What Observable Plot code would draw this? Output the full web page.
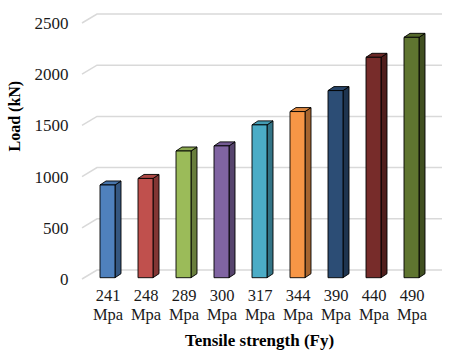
<!DOCTYPE html>
<html>
<head>
<meta charset="utf-8">
<script src="https://cdn.jsdelivr.net/npm/d3@7"></script>
<script src="https://cdn.jsdelivr.net/npm/@observablehq/plot@0.6"></script>
<style>
  html, body { margin: 0; padding: 0; background: #fff; }
  svg, svg text { font-family: "Liberation Serif", "Times New Roman", serif !important; }
</style>
</head>
<body>
<div id="chart"></div>
<script>
const categories = ["241 Mpa", "248 Mpa", "289 Mpa", "300 Mpa", "317 Mpa", "344 Mpa", "390 Mpa", "440 Mpa", "490 Mpa"];
const loads = [918, 982, 1250, 1300, 1505, 1635, 1840, 2165, 2360];
const colors = ["#4F81BD", "#C0504D", "#9BBB59", "#8064A2", "#4BACC6", "#F79646", "#2C4D75", "#772C2A", "#5F7530"];
const yTicks = [0, 500, 1000, 1500, 2000, 2500];
const xTitle = "Tensile strength (Fy)";
const yTitle = "Load (kN)";

const data = categories.map((c, i) => ({cat: c, load: loads[i], color: colors[i]}));

const FONT = "Liberation Serif";
const DX = 6, DY = 4;      // bar depth
const GX = 15, GY = 9;     // back-wall offset

const gridRender = (I, scales, values, dims) => {
  const g = d3.create("svg:g");
  const x0 = dims.marginLeft + 7;
  const xEnd = dims.width - dims.marginRight - 1;
  for (const i of I) {
    const y = scales.y(yTicks[i]);
    g.append("path")
      .attr("d", `M${x0},${y}L${x0 + GX},${y - GY}L${xEnd},${y - GY}`)
      .attr("fill", "none")
      .attr("stroke", "#d9d9d9")
      .attr("stroke-width", 1.5);
  }
  return g.node();
};

const barRender = (I, scales, values, dims) => {
  const g = d3.create("svg:g").attr("stroke", "#000").attr("stroke-width", 0.9).attr("stroke-linejoin", "round");
  for (const i of I) {
    const d = data[i];
    const xa = scales.x(d.cat);
    const xb = xa + scales.x.bandwidth();
    const y0 = scales.y(0) - 1.3;
    const y1 = scales.y(d.load);
    const c = d3.color(d.color);
    g.append("path")
      .attr("d", `M${xb},${y0}L${xb + DX},${y0 - DY}L${xb + DX},${y1 - DY}L${xb},${y1}Z`)
      .attr("fill", c.darker(1.1).formatHex());
    g.append("path")
      .attr("d", `M${xa},${y1}L${xa + DX},${y1 - DY}L${xb + DX},${y1 - DY}L${xb},${y1}Z`)
      .attr("fill", c.darker(0.3).formatHex());
    g.append("rect")
      .attr("x", xa).attr("y", y1)
      .attr("width", xb - xa).attr("height", y0 - y1)
      .attr("fill", c.formatHex());
  }
  return g.node();
};

const chart = Plot.plot({
  width: 450,
  height: 354,
  marginLeft: 75,
  marginRight: 7,
  marginTop: 23,
  marginBottom: 75,
  style: {fontFamily: FONT, fontSize: "17px", color: "#1a1a1a"},
  x: {domain: categories, padding: 0.61},
  y: {domain: [0, 2500], ticks: yTicks},
  marks: [
    Plot.ruleY(yTicks, {y: d => d, render: gridRender}),
    Plot.barY(data, {x: "cat", y: "load", render: barRender}),
    Plot.axisY({ticks: yTicks, tickSize: 0, tickPadding: 7, label: null, fontSize: 17, fontFamily: FONT, tickFormat: d => String(d)}),
    Plot.axisX({tickSize: 0, tickPadding: 9, label: null, fontSize: 16.5, fontFamily: FONT, lineHeight: 1.1, tickFormat: d => d.replace(" ", "\n")}),
    Plot.text([xTitle], {frameAnchor: "bottom", dy: 66, fontWeight: "bold", fontSize: 17, fontFamily: FONT, fill: "#000"}),
    Plot.text([yTitle], {frameAnchor: "left", dx: -61, rotate: -90, fontWeight: "bold", fontSize: 16, fontFamily: FONT, fill: "#000"})
  ]
});
document.getElementById("chart").appendChild(chart);
</script>
</body>
</html>
